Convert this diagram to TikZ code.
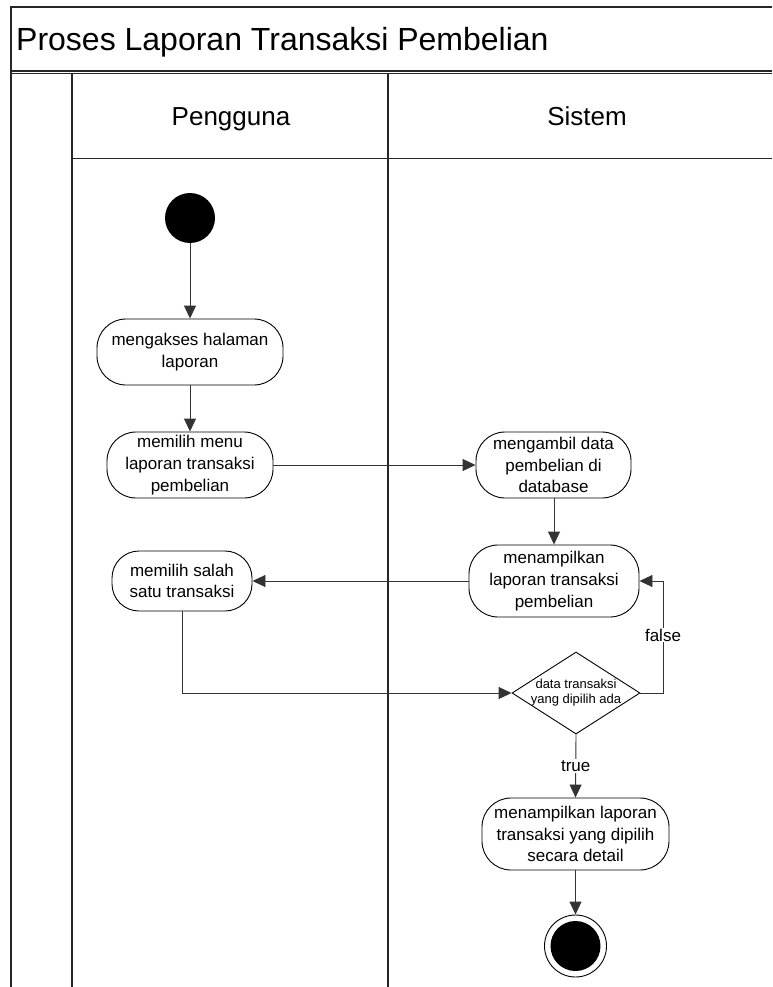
\documentclass[tikz,border=0pt]{standalone}
\usepackage{fontspec}
\setmainfont{Liberation Sans}
\usetikzlibrary{arrows.meta,shapes.geometric}
\tikzset{
  lane/.style={line width=1.2pt, draw=black!85},
  act/.style={draw, line width=0.9pt, rounded corners=29pt, inner sep=0pt, align=center,
    font=\fontsize{17}{21.7}\selectfont},
  flow/.style={line width=0.9pt, draw=black!80, -{Triangle[length=13pt,width=12pt]}},
  lbl/.style={fill=white, inner sep=1pt, font=\fontsize{17}{20}\selectfont},
  head/.style={anchor=base, inner sep=0pt, font=\fontsize{26}{30}\selectfont},
}
\begin{document}
\begin{tikzpicture}[x=1pt,y=-1pt]
\useasboundingbox (0,0) rectangle (772,987);
% frame
\draw[lane] (11,987) -- (11,7) -- (772,7);
\draw[lane] (11,71) -- (772,71);
\draw[lane] (11,73.5) -- (772,73.5);
\draw[lane] (72,73.5) -- (72,987);
\draw[lane] (388,73.5) -- (388,987);
\draw[lane] (72,158.5) -- (772,158.5);
\node[anchor=base west, inner sep=0pt, font=\fontsize{32}{36}\selectfont] (title) at (16,51) {Proses Laporan Transaksi Pembelian};
\node[head] (hp) at (231,126) {Pengguna};
\node[head] (hs) at (587,126) {Sistem};
% nodes
\node[circle, fill=black, minimum size=50pt, inner sep=0pt] (start) at (190,218) {};
\node[act, minimum width=186pt, minimum height=66pt] (a1) at (190,352) {mengakses halaman\\laporan};
\node[act, minimum width=166pt, minimum height=66pt] (a2) at (190,465) {memilih menu\\laporan transaksi\\pembelian};
\node[act, minimum width=155pt, minimum height=66pt] (a3) at (553.5,465) {mengambil data\\pembelian di\\database};
\node[act, minimum width=170pt, minimum height=72pt] (a4) at (554,581) {menampilkan\\laporan transaksi\\pembelian};
\node[act, minimum width=140pt, minimum height=60pt, rounded corners=27pt] (a5) at (182,581) {memilih salah\\satu transaksi};
\node[diamond, draw, line width=0.9pt, aspect=1.56, minimum width=128pt, minimum height=82pt, inner sep=0pt] (dia) at (576,693) {};
\node[align=center, inner sep=0pt, font=\fontsize{13}{15}\selectfont] (diatext) at (dia.center) {data transaksi\\yang dipilih ada};
\node[act, minimum width=187pt, minimum height=72pt] (a6) at (575.5,834) {menampilkan laporan\\transaksi yang dipilih\\secara detail};
\node[circle, draw, line width=0.9pt, minimum size=62pt, inner sep=0pt] (end) at (575.5,946) {};
\node[circle, fill=black, minimum size=50pt, inner sep=0pt] (endin) at (575.5,946) {};
% connectors
\draw[flow] (start) -- (a1);
\draw[flow] (a1) -- (a2);
\draw[flow] (a2.east) -- (a3.west);
\draw[flow] (a3.south -| a4.north) -- (a4.north);
\draw[flow] (a4.west) -- (a5.east);
\draw[flow] (a5.south) |- (dia.west);
\coordinate (fb) at (663,693);
\draw[flow] (dia.east) -- (fb) |- (a4.east);
\node[lbl] (lf) at (663,635) {false};
\draw[flow] (dia.south) -- node[lbl] (lt) {true} (a6.north);
\draw[flow] (a6.south) -- (end.north);
\end{tikzpicture}
\end{document}
